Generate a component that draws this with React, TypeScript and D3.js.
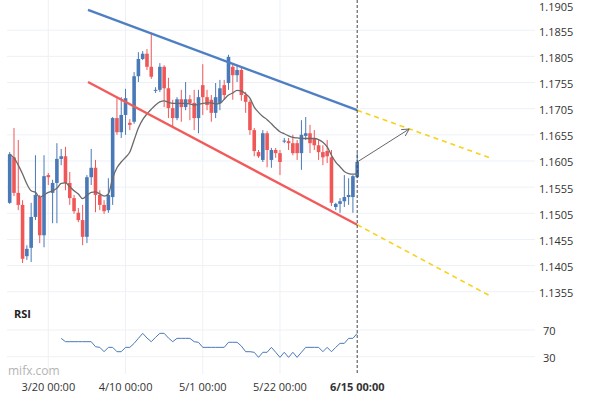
import React from 'react';
import * as d3 from 'd3';

// ---- data ----
const tickLabels = ["3/20 00:00", "4/10 00:00", "5/1 00:00", "5/22 00:00", "6/15 00:00"];
const tickIndex = [9, 27, 45, 63, 81];

const open = [1.1525,1.1612,1.1544,1.1521,1.1423,1.1439,1.1498,1.1536,1.1463,1.1578,
  1.1544,1.1563,1.1609,1.1614,1.1563,1.1534,1.1506,1.1492,1.1460,1.1574,
  1.1592,1.1540,1.1521,1.1511,1.1536,1.1687,1.1660,1.1693,1.1678,1.1680,
  1.1767,1.1800,1.1810,1.1785,1.1739,1.1741,1.1785,1.1744,1.1706,1.1687,
  1.1723,1.1708,1.1723,1.1716,1.1687,1.1750,1.1727,1.1722,1.1697,1.1716,
  1.1750,1.1754,1.1785,1.1769,1.1779,1.1731,1.1718,1.1664,1.1622,1.1607,
  1.1658,1.1607,1.1626,1.1620,1.1642,1.1643,1.1639,1.1639,1.1620,1.1653,
  1.1658,1.1647,1.1635,1.1622,1.1624,1.1612,1.1517,1.1523,1.1528,1.1536,
  1.1536,1.1574];
const high = [1.1622,1.1668,1.1645,1.1530,1.1444,1.1525,1.1616,1.1540,1.1616,1.1582,
  1.1569,1.1639,1.1628,1.1632,1.1584,1.1540,1.1515,1.1521,1.1578,1.1628,
  1.1607,1.1549,1.1530,1.1572,1.1689,1.1725,1.1727,1.1743,1.1685,1.1775,
  1.1813,1.1815,1.1819,1.1850,1.1746,1.1792,1.1788,1.1764,1.1722,1.1727,
  1.1741,1.1756,1.1731,1.1741,1.1741,1.1790,1.1741,1.1731,1.1754,1.1760,
  1.1760,1.1808,1.1792,1.1787,1.1783,1.1737,1.1722,1.1668,1.1626,1.1664,
  1.1662,1.1630,1.1630,1.1626,1.1649,1.1649,1.1655,1.1645,1.1683,1.1689,
  1.1674,1.1664,1.1645,1.1635,1.1645,1.1626,1.1525,1.1534,1.1578,1.1572,
  1.1578,1.1620];
const low = [1.1523,1.1538,1.1511,1.1410,1.1416,1.1412,1.1492,1.1448,1.1440,1.1559,
  1.1486,1.1486,1.1597,1.1549,1.1521,1.1504,1.1488,1.1444,1.1448,1.1559,
  1.1507,1.1511,1.1504,1.1506,1.1521,1.1655,1.1649,1.1655,1.1664,1.1676,
  1.1756,1.1798,1.1779,1.1762,1.1735,1.1737,1.1708,1.1687,1.1670,1.1683,
  1.1680,1.1702,1.1683,1.1664,1.1658,1.1693,1.1702,1.1680,1.1687,1.1702,
  1.1722,1.1741,1.1722,1.1756,1.1720,1.1697,1.1655,1.1614,1.1611,1.1603,
  1.1593,1.1592,1.1611,1.1578,1.1639,1.1626,1.1616,1.1607,1.1588,1.1645,
  1.1620,1.1626,1.1607,1.1597,1.1601,1.1519,1.1511,1.1506,1.1517,1.1521,
  1.1506,1.1572];
const close = [1.1618,1.1544,1.1521,1.1418,1.1437,1.1498,1.1540,1.1463,1.1576,1.1574,
  1.1563,1.1609,1.1614,1.1563,1.1534,1.1509,1.1492,1.1460,1.1574,1.1592,
  1.1540,1.1521,1.1509,1.1540,1.1687,1.1660,1.1693,1.1725,1.1674,1.1767,
  1.1800,1.1810,1.1785,1.1766,1.1741,1.1785,1.1744,1.1706,1.1687,1.1723,
  1.1708,1.1723,1.1716,1.1687,1.1727,1.1727,1.1712,1.1697,1.1727,1.1744,
  1.1731,1.1804,1.1769,1.1779,1.1731,1.1718,1.1664,1.1624,1.1614,1.1658,
  1.1626,1.1626,1.1620,1.1603,1.1644,1.1639,1.1620,1.1620,1.1655,1.1658,
  1.1639,1.1635,1.1622,1.1612,1.1614,1.1525,1.1523,1.1528,1.1536,1.1540,
  1.1576,1.1603];
const movingAvg = [1.1618,1.1611,1.1597,1.1580,1.1561,1.1548,1.1545,1.1536,1.1540,1.1545,
  1.1548,1.1553,1.1562,1.1563,1.1556,1.1548,1.1542,1.1533,1.1539,1.1545,
  1.1546,1.1542,1.1538,1.1542,1.1572,1.1592,1.1603,1.1612,1.1622,1.1645,
  1.1668,1.1684,1.1695,1.1704,1.1712,1.1718,1.1720,1.1717,1.1715,1.1715,
  1.1715,1.1715,1.1714,1.1712,1.1713,1.1715,1.1716,1.1716,1.1714,1.1715,
  1.1723,1.1731,1.1735,1.1740,1.1739,1.1733,1.1725,1.1708,1.1698,1.1690,
  1.1684,1.1676,1.1668,1.1661,1.1657,1.1653,1.1650,1.1649,1.1648,1.1648,
  1.1648,1.1648,1.1646,1.1641,1.1632,1.1616,1.1603,1.1594,1.1585,1.1581,
  1.1580,1.1581];
const rsiStart = 12;
const rsiValues = [57.5,52.5,52.5,52.5,52.5,52.5,52.5,52.5,45,44,
  37.5,44,44,37.5,37.5,44,44,50,57.5,65,
  58,52.5,59,65,65,58,52.5,57.5,57.5,57.5,
  57.5,52.5,51.6,44,44,44,44,44,44,51.6,
  51.6,51.6,46,37.5,37.5,36.6,29,36.6,36.6,44,
  36.6,29,36.6,29,36.6,29,36.6,44,44,44,
  44,37.5,44,37.5,44,50,50,57.5,57.5,65];
const priceTicks = [1.1355,1.1405,1.1455,1.1505,1.1555,1.1605,1.1655,1.1705,1.1755,1.1805,1.1855,1.1905];
const rsiTicks = [30, 70];
const upperChannel = [[18.25, 1.1894], [81, 1.1702]];
const upperProjection = [[81, 1.1702], [112, 1.1611]];
const lowerChannel = [[18.25, 1.1756], [81, 1.1483]];
const lowerProjection = [[81, 1.1483], [112, 1.1347]];
const forecastArrow = [[81, 1.1603], [93.1, 1.1666]];

export default function App() {
  const W = 590, H = 400;
  const plotL = 7, plotR = 535;
  const x = d3.scaleLinear().domain([0, 81]).range([9.7, 357.2]);
  const y = d3.scaleLinear().domain([1.1405, 1.1855]).range([265.6, 30.2]);
  const yr = d3.scaleLinear().domain([30, 70]).range([356.7, 330]);
  const bw = 3.6;
  const blue = "#4a79b8", red = "#f05858";
  const font = "'Open Sans', 'Noto Sans', sans-serif";

  const pLine = d3.line<number[]>().x(d => x(d[0])).y(d => y(d[1]));
  const maLine = d3.line<number>().x((_, i) => x(i)).y(d => y(d)).curve(d3.curveMonotoneX);
  const rsiLine = d3.line<number>().x((_, i) => x(i + rsiStart)).y(d => yr(d));

  const a0 = [x(forecastArrow[0][0]), y(forecastArrow[0][1])];
  const a1 = [x(forecastArrow[1][0]), y(forecastArrow[1][1])];
  const ang = Math.atan2(a1[1] - a0[1], a1[0] - a0[0]);
  const hl = 8;
  const head = [
    [a1[0] - hl * Math.cos(ang - 0.5), a1[1] - hl * Math.sin(ang - 0.5)],
    a1,
    [a1[0] - hl * Math.cos(ang + 0.5), a1[1] - hl * Math.sin(ang + 0.5)],
  ];

  const lastX = x(81);

  return (
    <svg width={W} height={H} style={{ position: 'absolute', left: 0, top: 0, background: '#fff' }} fontFamily={font}>
      <defs>
        <clipPath id="plot"><rect x={plotL} y={0} width={plotR - plotL} height={300} /></clipPath>
      </defs>
      {/* grid */}
      {priceTicks.filter(t => t < 1.19).map(t => (
        <line key={t} x1={plotL} x2={plotR} y1={y(t)} y2={y(t)} stroke="#edf1f7" strokeWidth={1} />
      ))}
      {rsiTicks.map(t => (
        <line key={'r' + t} x1={plotL} x2={plotR} y1={yr(t)} y2={yr(t)} stroke="#edf1f7" strokeWidth={1} />
      ))}
      {tickIndex.slice(0, 4).map(i => (
        <line key={'v' + i} x1={x(i)} x2={x(i)} y1={0} y2={374} stroke="#edf1f7" strokeWidth={1} />
      ))}

      <g clipPath="url(#plot)">
        {/* candles */}
        {open.map((o, i) => {
          const c = close[i];
          const up = c >= o;
          const col = up ? blue : red;
          const top = y(Math.max(o, c));
          const bot = y(Math.min(o, c));
          return (
            <g key={i}>
              <line x1={x(i)} x2={x(i)} y1={y(high[i])} y2={y(low[i])} stroke={col} strokeWidth={1} />
              <rect x={x(i) - bw / 2} y={top} width={bw} height={Math.max(1, bot - top)} fill={col} />
            </g>
          );
        })}
        {/* moving average */}
        <path d={maLine(movingAvg) || ''} fill="none" stroke="#6a6a6a" strokeWidth={1.3} />
        {/* channel lines */}
        <path d={pLine(upperChannel) || ''} stroke="#4f7fc3" strokeWidth={2.4} fill="none" />
        <path d={pLine(lowerChannel) || ''} stroke="#f25b5b" strokeWidth={2.4} fill="none" />
        <path d={pLine(upperProjection) || ''} stroke="#f7d21a" strokeWidth={1.6} strokeDasharray="5,4" fill="none" />
        <path d={pLine(lowerProjection) || ''} stroke="#f7d21a" strokeWidth={1.6} strokeDasharray="5,4" fill="none" />
        {/* forecast arrow */}
        <line x1={a0[0]} y1={a0[1]} x2={a1[0]} y2={a1[1]} stroke="#666" strokeWidth={1} />
        <polyline points={head.map(p => p.join(',')).join(' ')} fill="none" stroke="#666" strokeWidth={1} />
      </g>

      {/* RSI */}
      <path d={rsiLine(rsiValues) || ''} fill="none" stroke="#4a79b8" strokeWidth={1} />
      <text x={14} y={315} fontSize={11} fontWeight="bold" fill="#222" dominantBaseline="middle">RSI</text>

      {/* last-candle marker */}
      <line x1={lastX} x2={lastX} y1={0} y2={374} stroke="#444" strokeWidth={1} strokeDasharray="3,2" />

      {/* price axis */}
      {priceTicks.map(t => (
        <text key={'l' + t} x={539} y={Math.max(y(t) + 2.5, 8)} fontSize={11} fill="#333" dominantBaseline="middle">{t.toFixed(4)}</text>
      ))}
      {rsiTicks.map(t => (
        <text key={'rl' + t} x={543} y={yr(t) + 2} fontSize={11} fill="#333" dominantBaseline="middle">{t}</text>
      ))}

      {/* time axis */}
      {tickIndex.map((ti, k) => (
        <text key={'t' + ti} x={x(ti)} y={388} fontSize={11} textAnchor="middle" dominantBaseline="middle"
          fill="#333" fontWeight={k === tickIndex.length - 1 ? 'bold' : 'normal'}>{tickLabels[k]}</text>
      ))}

      <text x={8} y={372} fontSize={12} fill="#b4b4b4" dominantBaseline="middle">mifx.com</text>
    </svg>
  );
}
